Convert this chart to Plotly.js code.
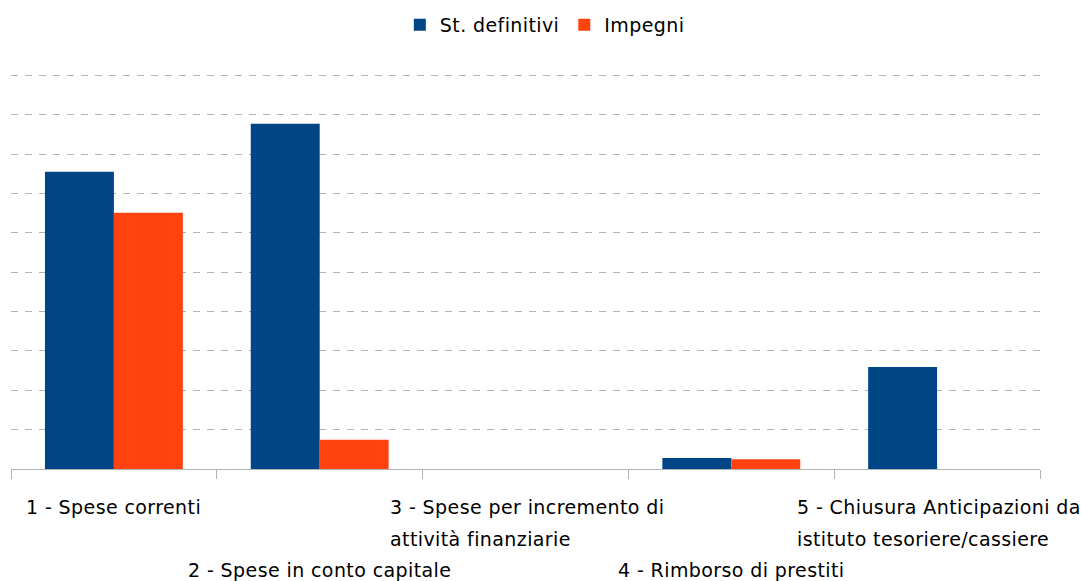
<!DOCTYPE html>
<html><head><meta charset="utf-8">
<script src="https://cdn.plot.ly/plotly-3.0.1.min.js"></script>
<style>html,body{margin:0;padding:0;background:#fff}#chart{width:1081px;height:581px}
svg text{letter-spacing:0.4px}</style>
</head><body><div id="chart"></div>
<script>
const categories = [
  "1 - Spese correnti",
  "2 - Spese in conto capitale",
  "3 - Spese per incremento di attività finanziarie",
  "4 - Rimborso di prestiti",
  "5 - Chiusura Anticipazioni da istituto tesoriere/cassiere"
];
const tickLabelLines = [
  ["1 - Spese correnti"],
  ["2 - Spese in conto capitale"],
  ["3 - Spese per incremento di", "attività finanziarie"],
  ["4 - Rimborso di prestiti"],
  ["5 - Chiusura Anticipazioni da", "istituto tesoriere/cassiere"]
];
const stDefinitivi = [7.55, 8.77, 0, 0.28, 2.59];
const impegni      = [6.51, 0.74, 0, 0.25, 0];
const seriesNames  = ["St. definitivi", "Impegni"];

const FONT = '"DejaVu Sans", Verdana, sans-serif';
const FS = 19;
const LS = 0.4;
const canvas = document.createElement('canvas');
const ctx = canvas.getContext('2d');
ctx.font = FS + 'px "DejaVu Sans"';
function textWidth(s) { return ctx.measureText(s).width + LS * s.length; }

const annotations = [];
tickLabelLines.forEach((lines, i) => {
  const rowStart = (i % 2 === 0) ? 0 : 2;
  const maxW = Math.max(...lines.map(textWidth));
  lines.forEach((line, l) => {
    const a = {
      xref: 'x', yref: 'paper', x: i, y: 0,
      text: line, showarrow: false,
      yanchor: 'middle',
      yshift: -(38 + 31.5 * (rowStart + l)),
      font: {family: FONT, size: FS, color: '#000'}
    };
    if (lines.length > 1) { a.xanchor = 'left'; a.xshift = -maxW / 2; }
    else { a.xanchor = 'center'; }
    annotations.push(a);
  });
});

const data = [
  {type: 'bar', name: seriesNames[0], x: categories, y: stDefinitivi,
   marker: {color: '#004586'}, hoverinfo: 'skip'},
  {type: 'bar', name: seriesNames[1], x: categories, y: impegni,
   marker: {color: '#ff420e'}, hoverinfo: 'skip'}
];

const layout = {
  width: 1081, height: 581,
  margin: {l: 11, r: 41, t: 73, b: 112, pad: 0},
  paper_bgcolor: '#fff', plot_bgcolor: '#fff',
  font: {family: FONT, size: FS, color: '#000'},
  barmode: 'group', bargap: 0.33, bargroupgap: 0,
  showlegend: true,
  legend: {orientation: 'h', xref: 'container', yref: 'container',
           x: 0.504, xanchor: 'center', y: 1 - 25/581, yanchor: 'middle',
           font: {family: FONT, size: FS, color: '#000'}, traceorder: 'normal'},
  xaxis: {type: 'category', showticklabels: false, showgrid: false,
          showline: true, linecolor: '#b3b3b3', linewidth: 1,
          ticks: 'outside', tickson: 'boundaries', ticklen: 9, tickcolor: '#b3b3b3', tickwidth: 1,
          range: [-0.5, 4.5], fixedrange: true},
  yaxis: {range: [0, 10.06], dtick: 1, showticklabels: false, showgrid: true,
          gridcolor: '#b3b3b3', gridwidth: 1, griddash: '7px,7px',
          zeroline: false, showline: false, ticks: '', fixedrange: true},
  annotations: annotations
};

Plotly.newPlot('chart', data, layout, {staticPlot: true, displayModeBar: false});
</script>
</body></html>
